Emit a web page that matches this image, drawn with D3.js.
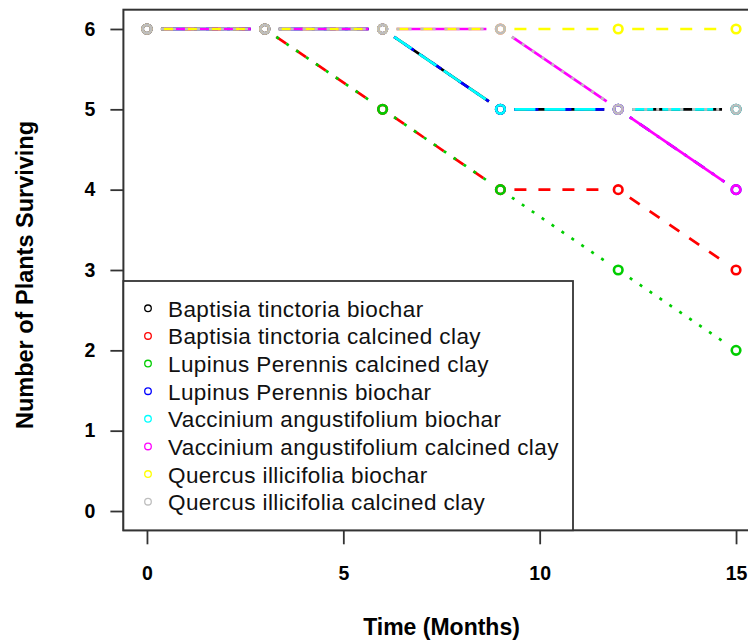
<!DOCTYPE html>
<html>
<head>
<meta charset="utf-8">
<script src="https://cdn.jsdelivr.net/npm/d3@7"></script>
<style>
  html, body { margin: 0; padding: 0; background: #fff; }
  svg { display: block; font-family: "Liberation Sans", Arial, sans-serif; }
</style>
</head>
<body>
<svg id="chart" width="748" height="642"></svg>
<script>
// ---- data ----
const months = [0, 3, 6, 9, 12, 15];
const seriesNames = [
  "Baptisia tinctoria biochar",
  "Baptisia tinctoria calcined clay",
  "Lupinus Perennis calcined clay",
  "Lupinus Perennis biochar",
  "Vaccinium angustifolium biochar",
  "Vaccinium angustifolium calcined clay",
  "Quercus illicifolia biochar",
  "Quercus illicifolia calcined clay"
];
const baptisiaBiochar      = [6, 6, 6, 5, 5, 5];
const baptisiaClay         = [6, 6, 5, 4, 4, 3];
const lupinusClay          = [6, 6, 5, 4, 3, 2];
const lupinusBiochar       = [6, 6, 6, 5, 5, 4];
const vacciniumBiochar     = [6, 6, 6, 5, 5, 5];
const vacciniumClay        = [6, 6, 6, 6, 5, 4];
const quercusBiochar       = [6, 6, 6, 6, 6, 6];
const quercusClay          = [6, 6, 6, 6, 5, 5];
const seriesValues = [baptisiaBiochar, baptisiaClay, lupinusClay, lupinusBiochar,
                      vacciniumBiochar, vacciniumClay, quercusBiochar, quercusClay];
const seriesColors = ["#000000", "#FF0000", "#00CD00", "#0000FF",
                      "#00FFFF", "#FF00FF", "#FFFF00", "#BEBEBE"];
const seriesDash = ["", "12 12", "3 9", "3 9 12 9", "21 9", "", "12 12", "3 9"];
const xTicks = [0, 5, 10, 15];
const yTicks = [0, 1, 2, 3, 4, 5, 6];
const xTitle = "Time (Months)";
const yTitle = "Number of Plants Surviving";

// ---- layout ----
const svg = d3.select("#chart");
const plot = { left: 123.4, right: 759.6, top: 9.7, bottom: 530.3 };
const x = d3.scaleLinear().domain([-0.6, 15.6]).range([plot.left, plot.right]);
const y = d3.scaleLinear().domain([-0.24, 6.24]).range([plot.bottom, plot.top]);

// series lines with gaps around points (R type "b")
const gap = 14;
const lw = 2.7;
seriesValues.forEach((vals, si) => {
  const g = svg.append("g");
  const pts = months.map((m, i) => [x(m), y(vals[i])]);
  const segs = [];
  for (let i = 0; i < pts.length - 1; i++) {
    const [x1, y1] = pts[i], [x2, y2] = pts[i + 1];
    const L = Math.hypot(x2 - x1, y2 - y1);
    if (L <= 2 * gap) continue;
    const ux = (x2 - x1) / L, uy = (y2 - y1) / L;
    segs.push([x1 + ux * gap, y1 + uy * gap, x2 - ux * gap, y2 - uy * gap]);
  }
  g.selectAll("line").data(segs).join("line")
    .attr("x1", d => d[0]).attr("y1", d => d[1])
    .attr("x2", d => d[2]).attr("y2", d => d[3])
    .attr("stroke", seriesColors[si])
    .attr("stroke-width", lw)
    .attr("stroke-dasharray", seriesDash[si] || null)
    .attr("fill", "none");
  g.selectAll("circle").data(pts).join("circle")
    .attr("cx", d => d[0]).attr("cy", d => d[1])
    .attr("r", 4.3)
    .attr("fill", "none")
    .attr("stroke", seriesColors[si])
    .attr("stroke-width", 2.6);
});

// frame
svg.append("rect")
  .attr("x", plot.left).attr("y", plot.top)
  .attr("width", plot.right - plot.left).attr("height", plot.bottom - plot.top)
  .attr("fill", "none").attr("stroke", "#333").attr("stroke-width", 2);

// axes
const yAxis = svg.append("g")
  .attr("transform", `translate(${plot.left},0)`)
  .call(d3.axisLeft(y).tickValues(yTicks).tickFormat(d3.format("d")).tickSize(13).tickPadding(15));
const xAxis = svg.append("g")
  .attr("transform", `translate(0,${plot.bottom})`)
  .call(d3.axisBottom(x).tickValues(xTicks).tickFormat(d3.format("d")).tickSize(14).tickPadding(22));
[yAxis, xAxis].forEach(a => {
  a.select(".domain").remove();
  a.selectAll(".tick line").attr("stroke", "#333").attr("stroke-width", 1.8);
  a.selectAll(".tick text")
    .attr("fill", "#000")
    .style("font-family", "'Liberation Sans', Arial, sans-serif")
    .style("font-size", "19.5px").style("font-weight", "bold");
});

// axis titles
svg.append("text")
  .attr("x", (plot.left + plot.right) / 2).attr("y", 635)
  .attr("text-anchor", "middle")
  .style("font-size", "23px").style("font-weight", "bold")
  .text(xTitle);
svg.append("text")
  .attr("transform", `translate(33,${(plot.top + plot.bottom) / 2 + 5}) rotate(-90)`)
  .attr("text-anchor", "middle")
  .style("font-size", "23.5px").style("font-weight", "bold")
  .text(yTitle);

// legend
const legend = svg.append("g");
legend.append("rect")
  .attr("x", plot.left).attr("y", 281)
  .attr("width", 573 - plot.left).attr("height", plot.bottom - 281)
  .attr("fill", "#fff").attr("stroke", "#333").attr("stroke-width", 1.8);
const rowY = d3.scaleLinear().domain([0, 7]).range([308.3, 501.7]);
const rows = legend.selectAll("g.row").data(seriesNames).join("g").attr("class", "row");
rows.append("circle")
  .attr("cx", 148).attr("cy", (d, i) => rowY(i))
  .attr("r", 3.3).attr("fill", "none")
  .attr("stroke", (d, i) => seriesColors[i]).attr("stroke-width", 1.3);
rows.append("text")
  .attr("x", 168).attr("y", (d, i) => rowY(i) + 8.5)
  .style("font-size", "22.5px").style("letter-spacing", "0.4px").attr("fill", "#111")
  .text(d => d);
</script>
</body>
</html>
